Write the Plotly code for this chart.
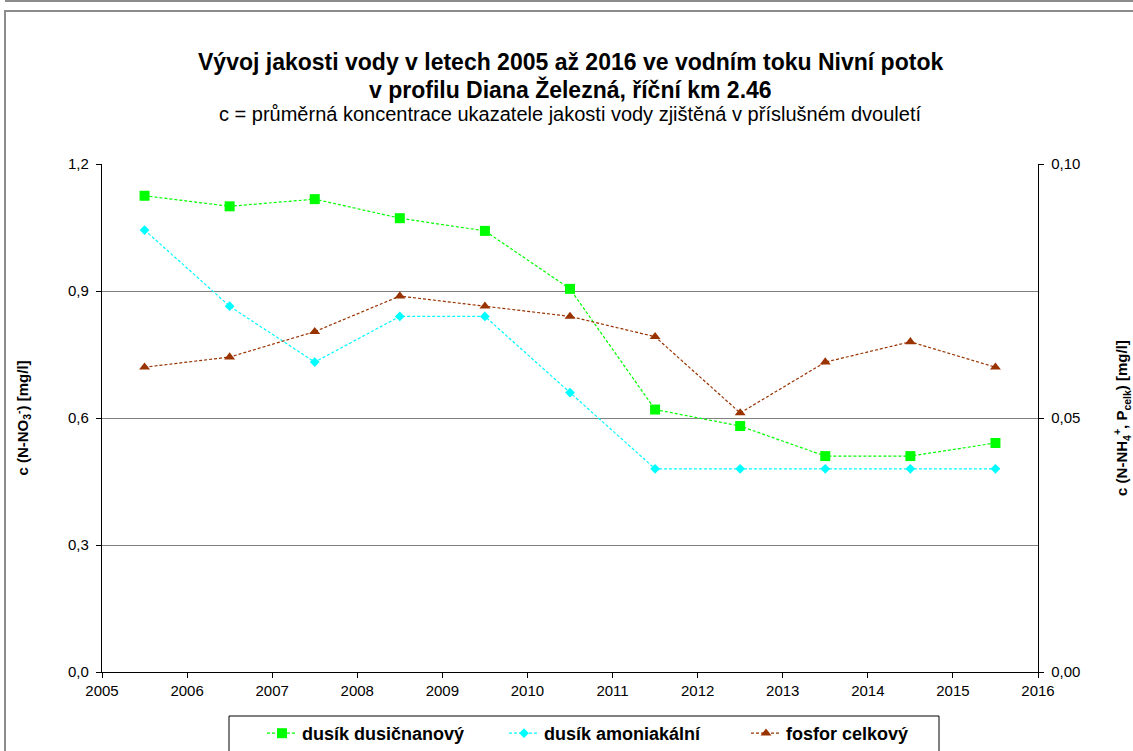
import plotly.graph_objects as go

# midpoints of the two-year periods
years = [2005.5, 2006.5, 2007.5, 2008.5, 2009.5, 2010.5, 2011.5, 2012.5, 2013.5, 2014.5, 2015.5]

# concentrations [mg/l]
dusik_dusicnanovy = [1.125, 1.100, 1.117, 1.072, 1.042, 0.905, 0.620, 0.581, 0.510, 0.510, 0.541]
dusik_amoniakalni = [0.087, 0.072, 0.061, 0.070, 0.070, 0.055, 0.040, 0.040, 0.040, 0.040, 0.040]
fosfor_celkovy = [0.060, 0.062, 0.067, 0.074, 0.072, 0.070, 0.066, 0.051, 0.061, 0.065, 0.060]

FONT = "Liberation Sans, Arial, sans-serif"
NBSP = "\u00a0"

# plot area in pixels (for shapes placed in paper coords)
L, R, T, B = 102, 1038, 164, 672


def px(x):
    return (x - L) / (R - L)


def py(y):
    return (B - y) / (B - T)


fig = go.Figure()

fig.add_trace(go.Scatter(
    x=years, y=dusik_dusicnanovy, name="dusík dusičnanový",
    mode="lines+markers",
    line=dict(color="#00FF00", width=1.2, dash="3px,2px"),
    marker=dict(symbol="square", size=10, color="#00FF00"),
))
fig.add_trace(go.Scatter(
    x=years, y=dusik_amoniakalni, name="dusík amoniakální", yaxis="y2",
    mode="lines+markers",
    line=dict(color="#00FFFF", width=1.2, dash="3px,2px"),
    marker=dict(symbol="diamond", size=7.5, color="#00FFFF"),
))
fig.add_trace(go.Scatter(
    x=years, y=fosfor_celkovy, name="fosfor celkový", yaxis="y2",
    mode="lines+markers",
    line=dict(color="#993300", width=1.2, dash="3px,2px"),
    marker=dict(symbol="triangle-up", size=9.5, color="#993300"),
))

frame = "#8c8c8c"
shapes = [
    # outer chart frame
    dict(type="rect", xref="paper", yref="paper",
         x0=px(5), x1=px(1140), y0=py(11), y1=py(760),
         line=dict(color=frame, width=2), layer="below"),
    # bottom edge of the frame above
    dict(type="line", xref="paper", yref="paper",
         x0=px(5), x1=px(1140), y0=py(1), y1=py(1),
         line=dict(color=frame, width=2)),
    # legend box
    dict(type="rect", xref="paper", yref="paper",
         x0=px(229), x1=px(939), y0=py(716), y1=py(760),
         line=dict(color="black", width=1), fillcolor="white", layer="below"),
]

annotations = [
    dict(text="<b>Vývoj jakosti vody v letech 2005 až 2016 ve vodním toku Nivní potok</b>",
         x=px(570), y=py(62), xref="paper", yref="paper", showarrow=False,
         yanchor="middle", font=dict(size=23, family=FONT, color="black")),
    dict(text="<b>v profilu Diana Železná, říční km 2.46</b>",
         x=px(570), y=py(89), xref="paper", yref="paper", showarrow=False,
         yanchor="middle", font=dict(size=23, family=FONT, color="black")),
    dict(text="c = průměrná koncentrace ukazatele jakosti vody zjištěná v příslušném dvouletí",
         x=px(570), y=py(114), xref="paper", yref="paper", showarrow=False,
         yanchor="middle", font=dict(size=20, family=FONT, color="black")),
]

fig.update_layout(
    width=1133, height=751,
    margin=dict(l=L, r=1133 - R, t=T, b=751 - B, autoexpand=False),
    paper_bgcolor="white", plot_bgcolor="white",
    font=dict(family=FONT, size=15, color="black"),
    separators=", ",
    showlegend=True,
    legend=dict(orientation="h", x=px(262), xanchor="left", y=py(715), yanchor="top",
                font=dict(size=18, family=FONT, color="black", weight="bold"),
                bgcolor="rgba(0,0,0,0)", itemwidth=30, traceorder="normal",
                entrywidth=197, entrywidthmode="pixels"),
    xaxis=dict(range=[2005, 2016], dtick=1, tick0=2005, showgrid=False, zeroline=False,
               showline=True, linecolor="black", linewidth=1,
               ticks="outside", ticklen=5, tickcolor="black"),
    yaxis=dict(range=[0, 1.2], dtick=0.3, tickformat=".1f", ticksuffix=NBSP, showgrid=True,
               gridcolor="#808080", gridwidth=1, zeroline=False,
               showline=True, linecolor="black", linewidth=1,
               ticks="outside", ticklen=5, tickcolor="black",
               title=dict(text="c (N-NO<sub>3</sub><sup>-</sup>) [mg/l]", standoff=35,
                          font=dict(size=15, family=FONT, weight="bold"))),
    yaxis2=dict(range=[0, 0.1], dtick=0.05, tickformat=".2f", tickprefix=NBSP,
                overlaying="y", side="right", showgrid=False, zeroline=False,
                showline=True, linecolor="black", linewidth=1,
                ticks="outside", ticklen=5, tickcolor="black",
                title=dict(text="c (N-NH<sub>4</sub><sup>+</sup>, P<sub>celk</sub>) [mg/l]",
                           standoff=37, font=dict(size=15, family=FONT, weight="bold"))),
    shapes=shapes,
    annotations=annotations,
)

# drop the default body margin so the figure sits at the window's corner
fig.write_html("out.html", config={"displayModeBar": False},
               post_script="document.body.style.margin='0';")
